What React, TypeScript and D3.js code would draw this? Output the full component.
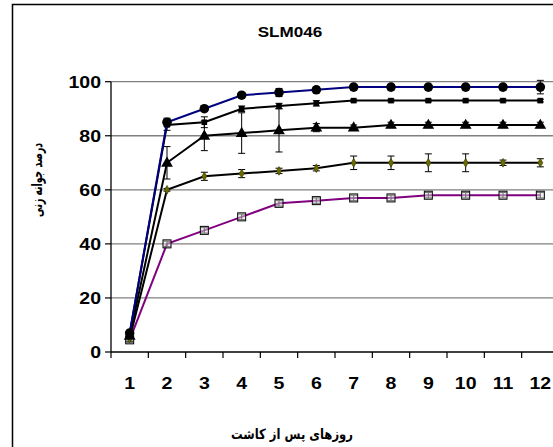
import React from "react";
import * as d3 from "d3";

const days = [1, 2, 3, 4, 5, 6, 7, 8, 9, 10, 11, 12];
const yTicks = [0, 20, 40, 60, 80, 100];
const title = "SLM046";
const xTitle = "روزهای پس از کاشت";
const yTitle = "درصد جوانه زنی";

const circleVals = [7, 85, 90, 95, 96, 97, 98, 98, 98, 98, 98, 98];
const circleErr = [1, 1.5, 1, 1, 1.5, 1, 1, 1, 1, 1, 1, 2.5];
const squareVals = [7, 84, 85, 90, 91, 92, 93, 93, 93, 93, 93, 93];
const squareErr = [1, 2, 2, 1, 1, 1, 0.5, 0.5, 0.5, 0.5, 0.5, 0.5];
const triangleVals = [6, 70, 80, 81, 82, 83, 83, 84, 84, 84, 84, 84];
const triangleErr = [1, 6, 5.5, 7.5, 8, 1.5, 1, 1, 1, 1, 1, 1];
const diamondVals = [5, 60, 65, 66, 67, 68, 70, 70, 70, 70, 70, 70];
const diamondErr = [1, 0.5, 1.5, 1.5, 1, 1, 2.5, 2.5, 3.3, 3.3, 1, 1.5];
const purpleVals = [4.5, 40, 45, 50, 55, 56, 57, 57, 58, 58, 58, 58];
const purpleErr = [1, 1, 1, 1, 1, 1, 1, 1, 1, 1, 1, 1];

type Series = {
  vals: number[];
  err: number[];
  line: string;
  marker: "circle" | "square" | "triangle" | "diamond" | "opensquare";
};

const series: Series[] = [
  { vals: purpleVals, err: purpleErr, line: "#800080", marker: "opensquare" },
  { vals: diamondVals, err: diamondErr, line: "#000000", marker: "diamond" },
  { vals: triangleVals, err: triangleErr, line: "#000000", marker: "triangle" },
  { vals: squareVals, err: squareErr, line: "#000000", marker: "square" },
  { vals: circleVals, err: circleErr, line: "#000080", marker: "circle" },
];

const W = 553;
const H = 447;
const plotLeft = 111;
const plotRight = 559;
const plotTop = 81.7;
const plotBottom = 352;

const x = d3.scaleLinear().domain([0.5, 12.5]).range([plotLeft, plotRight]);
const y = d3.scaleLinear().domain([0, 100]).range([plotBottom, plotTop]);

const font = "'Liberation Sans', Arial, sans-serif";
const sx = 1.22;

function Marker({ kind, cx, cy }: { kind: Series["marker"]; cx: number; cy: number }) {
  if (kind === "circle") return <circle cx={cx} cy={cy} r={4.8} fill="#000" />;
  if (kind === "square") return <rect x={cx - 2.8} y={cy - 2.8} width={5.6} height={5.6} fill="#000" />;
  if (kind === "triangle") {
    const s = d3.symbol().type(d3.symbolTriangle).size(60)();
    return <path d={s || ""} transform={`translate(${cx},${cy + 0.5})`} fill="#000" />;
  }
  if (kind === "diamond") {
    const s = d3.symbol().type(d3.symbolDiamond).size(22)();
    return <path d={s || ""} transform={`translate(${cx},${cy})`} fill="#6b6b00" stroke="#333300" strokeWidth={0.6} />;
  }
  return <rect x={cx - 4} y={cy - 4} width={8} height={8} fill="#e0e0e0" fillOpacity={0.5} stroke="#000" strokeWidth={1} />;
}

export default function App() {
  const line = d3
    .line<number>()
    .x((_, i) => x(days[i]))
    .y((v) => y(v));

  return (
    <svg width={W} height={H} style={{ position: "absolute", left: 0, top: 0, background: "#fff" }}>
      <rect x={0} y={0} width={W} height={H} fill="#fff" />
      <rect x={12.5} y={4.5} width={580} height={470} fill="none" stroke="#000" strokeWidth={1.5} />

      {yTicks.filter((t) => t > 0).map((t) => (
        <line key={t} x1={plotLeft} x2={plotRight} y1={y(t)} y2={y(t)} stroke="#808080" strokeWidth={1.3} />
      ))}

      <line x1={plotLeft} x2={plotLeft} y1={plotTop} y2={plotBottom} stroke="#000" strokeWidth={1.3} />
      <line x1={plotLeft} x2={plotRight} y1={plotBottom} y2={plotBottom} stroke="#000" strokeWidth={1.3} />
      {yTicks.map((t) => (
        <line key={"yt" + t} x1={plotLeft - 6} x2={plotLeft} y1={y(t)} y2={y(t)} stroke="#000" strokeWidth={1.2} />
      ))}
      {d3.range(0, 13).map((i) => (
        <line key={"xt" + i} x1={x(0.5 + i)} x2={x(0.5 + i)} y1={plotBottom} y2={plotBottom + 6} stroke="#000" strokeWidth={1.2} />
      ))}

      {yTicks.map((t) => (
        <text
          key={"yl" + t}
          transform={`translate(${plotLeft - 10},${y(t) + 6}) scale(${sx},1)`}
          textAnchor="end"
          fontFamily={font}
          fontWeight="bold"
          fontSize={16}
        >
          {t}
        </text>
      ))}

      {days.map((d) => (
        <text
          key={"xl" + d}
          transform={`translate(${x(d)},${389}) scale(${sx},1)`}
          textAnchor="middle"
          fontFamily={font}
          fontWeight="bold"
          fontSize={16}
        >
          {d}
        </text>
      ))}

      <text
        transform={`translate(290,37) scale(${sx},1)`}
        textAnchor="middle"
        fontFamily={font}
        fontWeight="bold"
        fontSize={14}
      >
        {title}
      </text>

      <text
        x={292}
        y={439}
        textAnchor="middle"
        fontFamily="'DejaVu Sans', sans-serif"
        fontWeight="bold"
        fontSize={14}
        direction="rtl"
        textLength={122}
        lengthAdjust="spacingAndGlyphs"
      >
        {xTitle}
      </text>
      <text
        transform={`translate(42,180) rotate(-90)`}
        textAnchor="middle"
        fontFamily="'DejaVu Sans', sans-serif"
        fontWeight="bold"
        fontSize={15}
        direction="rtl"
        textLength={74}
        lengthAdjust="spacingAndGlyphs"
      >
        {yTitle}
      </text>

      {series.map((s, si) => (
        <g key={si}>
          <path d={line(s.vals) || ""} fill="none" stroke={s.line} strokeWidth={2} />
          {s.vals.map((v, i) => {
            const cx = x(days[i]);
            const y1 = y(v + s.err[i]);
            const y2 = y(v - s.err[i]);
            return (
              <g key={i} stroke="#000" strokeWidth={1}>
                <line x1={cx} x2={cx} y1={y1} y2={y2} />
                <line x1={cx - 3.5} x2={cx + 3.5} y1={y1} y2={y1} />
                <line x1={cx - 3.5} x2={cx + 3.5} y1={y2} y2={y2} />
              </g>
            );
          })}
          {s.vals.map((v, i) => (
            <Marker key={"m" + i} kind={s.marker} cx={x(days[i])} cy={y(v)} />
          ))}
        </g>
      ))}
    </svg>
  );
}
